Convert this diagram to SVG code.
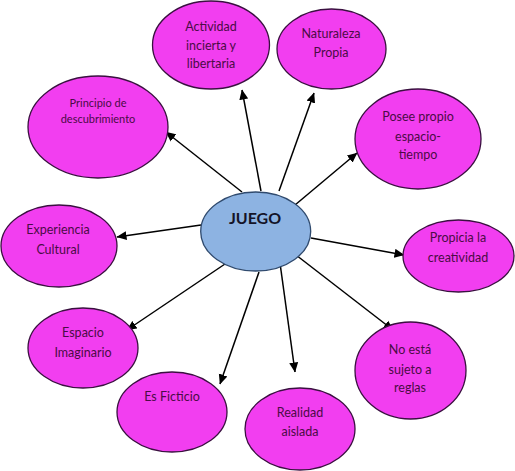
<svg xmlns="http://www.w3.org/2000/svg" width="515" height="471" viewBox="0 0 515 471">
<defs>
<marker id="ah" viewBox="0 0 10 10" refX="9.5" refY="5" markerWidth="10" markerHeight="10" markerUnits="userSpaceOnUse" orient="auto">
<path d="M0,0.5 L10,5 L0,9.5 Z" fill="#000"/>
</marker>
<style>
.n{fill:#f23ef0;stroke:#3a1040;stroke-width:1.3}
.c{fill:#8db3e2;stroke:#2f4a6e;stroke-width:1.3}
.t{font-family:Lato,"Liberation Sans",sans-serif;font-size:12.5px;fill:#4a0c45;text-anchor:middle}
.s{font-size:11px}
.b{font-family:Lato,"Liberation Sans",sans-serif;font-weight:bold;font-size:16px;fill:#141428;text-anchor:middle}
.e{stroke:#000;stroke-width:1.5;fill:none;marker-end:url(#ah)}
</style>
</defs>
<rect width="515" height="471" fill="#fff"/>
<g id="connectors">
<line class="e" x1="261" y1="191" x2="242" y2="90"/>
<line class="e" x1="279" y1="191" x2="314" y2="93"/>
<line class="e" x1="295" y1="205" x2="357" y2="153"/>
<line class="e" x1="242" y1="192" x2="166" y2="132"/>
<line class="e" x1="201" y1="225" x2="117" y2="237"/>
<line class="e" x1="311" y1="238" x2="404" y2="255"/>
<line class="e" x1="296" y1="255" x2="393" y2="330"/>
<line class="e" x1="280" y1="263" x2="295" y2="372"/>
<line class="e" x1="259" y1="272" x2="220" y2="384"/>
<line class="e" x1="225" y1="264" x2="127" y2="330"/>
</g>
<g id="juego"><ellipse class="c" cx="255.7" cy="231.5" rx="55" ry="39.5"/><text class="b" x="255" y="224">JUEGO</text></g>
<g id="actividad"><ellipse class="n" cx="211" cy="45" rx="58.5" ry="44"/><text class="t" x="211" y="31">Actividad</text><text class="t" x="211" y="50">incierta y</text><text class="t" x="211" y="68">libertaria</text></g>
<g id="naturaleza"><ellipse class="n" cx="331.5" cy="49" rx="54.5" ry="40"/><text class="t" x="331" y="38">Naturaleza</text><text class="t" x="331" y="57">Propia</text></g>
<g id="posee"><ellipse class="n" cx="418" cy="139" rx="63" ry="50"/><text class="t" x="418" y="121">Posee propio</text><text class="t" x="418" y="141">espacio-</text><text class="t" x="418" y="159">tiempo</text></g>
<g id="principio"><ellipse class="n" cx="98" cy="127" rx="70" ry="51"/><text class="t s" x="98" y="107">Principio de</text><text class="t s" x="98" y="123">descubrimiento</text></g>
<g id="experiencia"><ellipse class="n" cx="59" cy="246" rx="58" ry="41"/><text class="t" x="58" y="234">Experiencia</text><text class="t" x="58" y="254">Cultural</text></g>
<g id="propicia"><ellipse class="n" cx="458.5" cy="256" rx="55.5" ry="36"/><text class="t" x="458" y="242">Propicia la</text><text class="t" x="458" y="262">creatividad</text></g>
<g id="espacio"><ellipse class="n" cx="83" cy="348" rx="55" ry="40"/><text class="t" x="83" y="337">Espacio</text><text class="t" x="83" y="357">Imaginario</text></g>
<g id="ficticio"><ellipse class="n" cx="172" cy="412" rx="55" ry="40"/><text class="t" x="172" y="401">Es Ficticio</text></g>
<g id="realidad"><ellipse class="n" cx="300" cy="429" rx="55" ry="41"/><text class="t" x="300" y="417">Realidad</text><text class="t" x="300" y="436">aislada</text></g>
<g id="noesta"><ellipse class="n" cx="410.5" cy="370.5" rx="55.5" ry="48.5"/><text class="t" x="410" y="354">No está</text><text class="t" x="410" y="374">sujeto a</text><text class="t" x="410" y="392">reglas</text></g>
</svg>
